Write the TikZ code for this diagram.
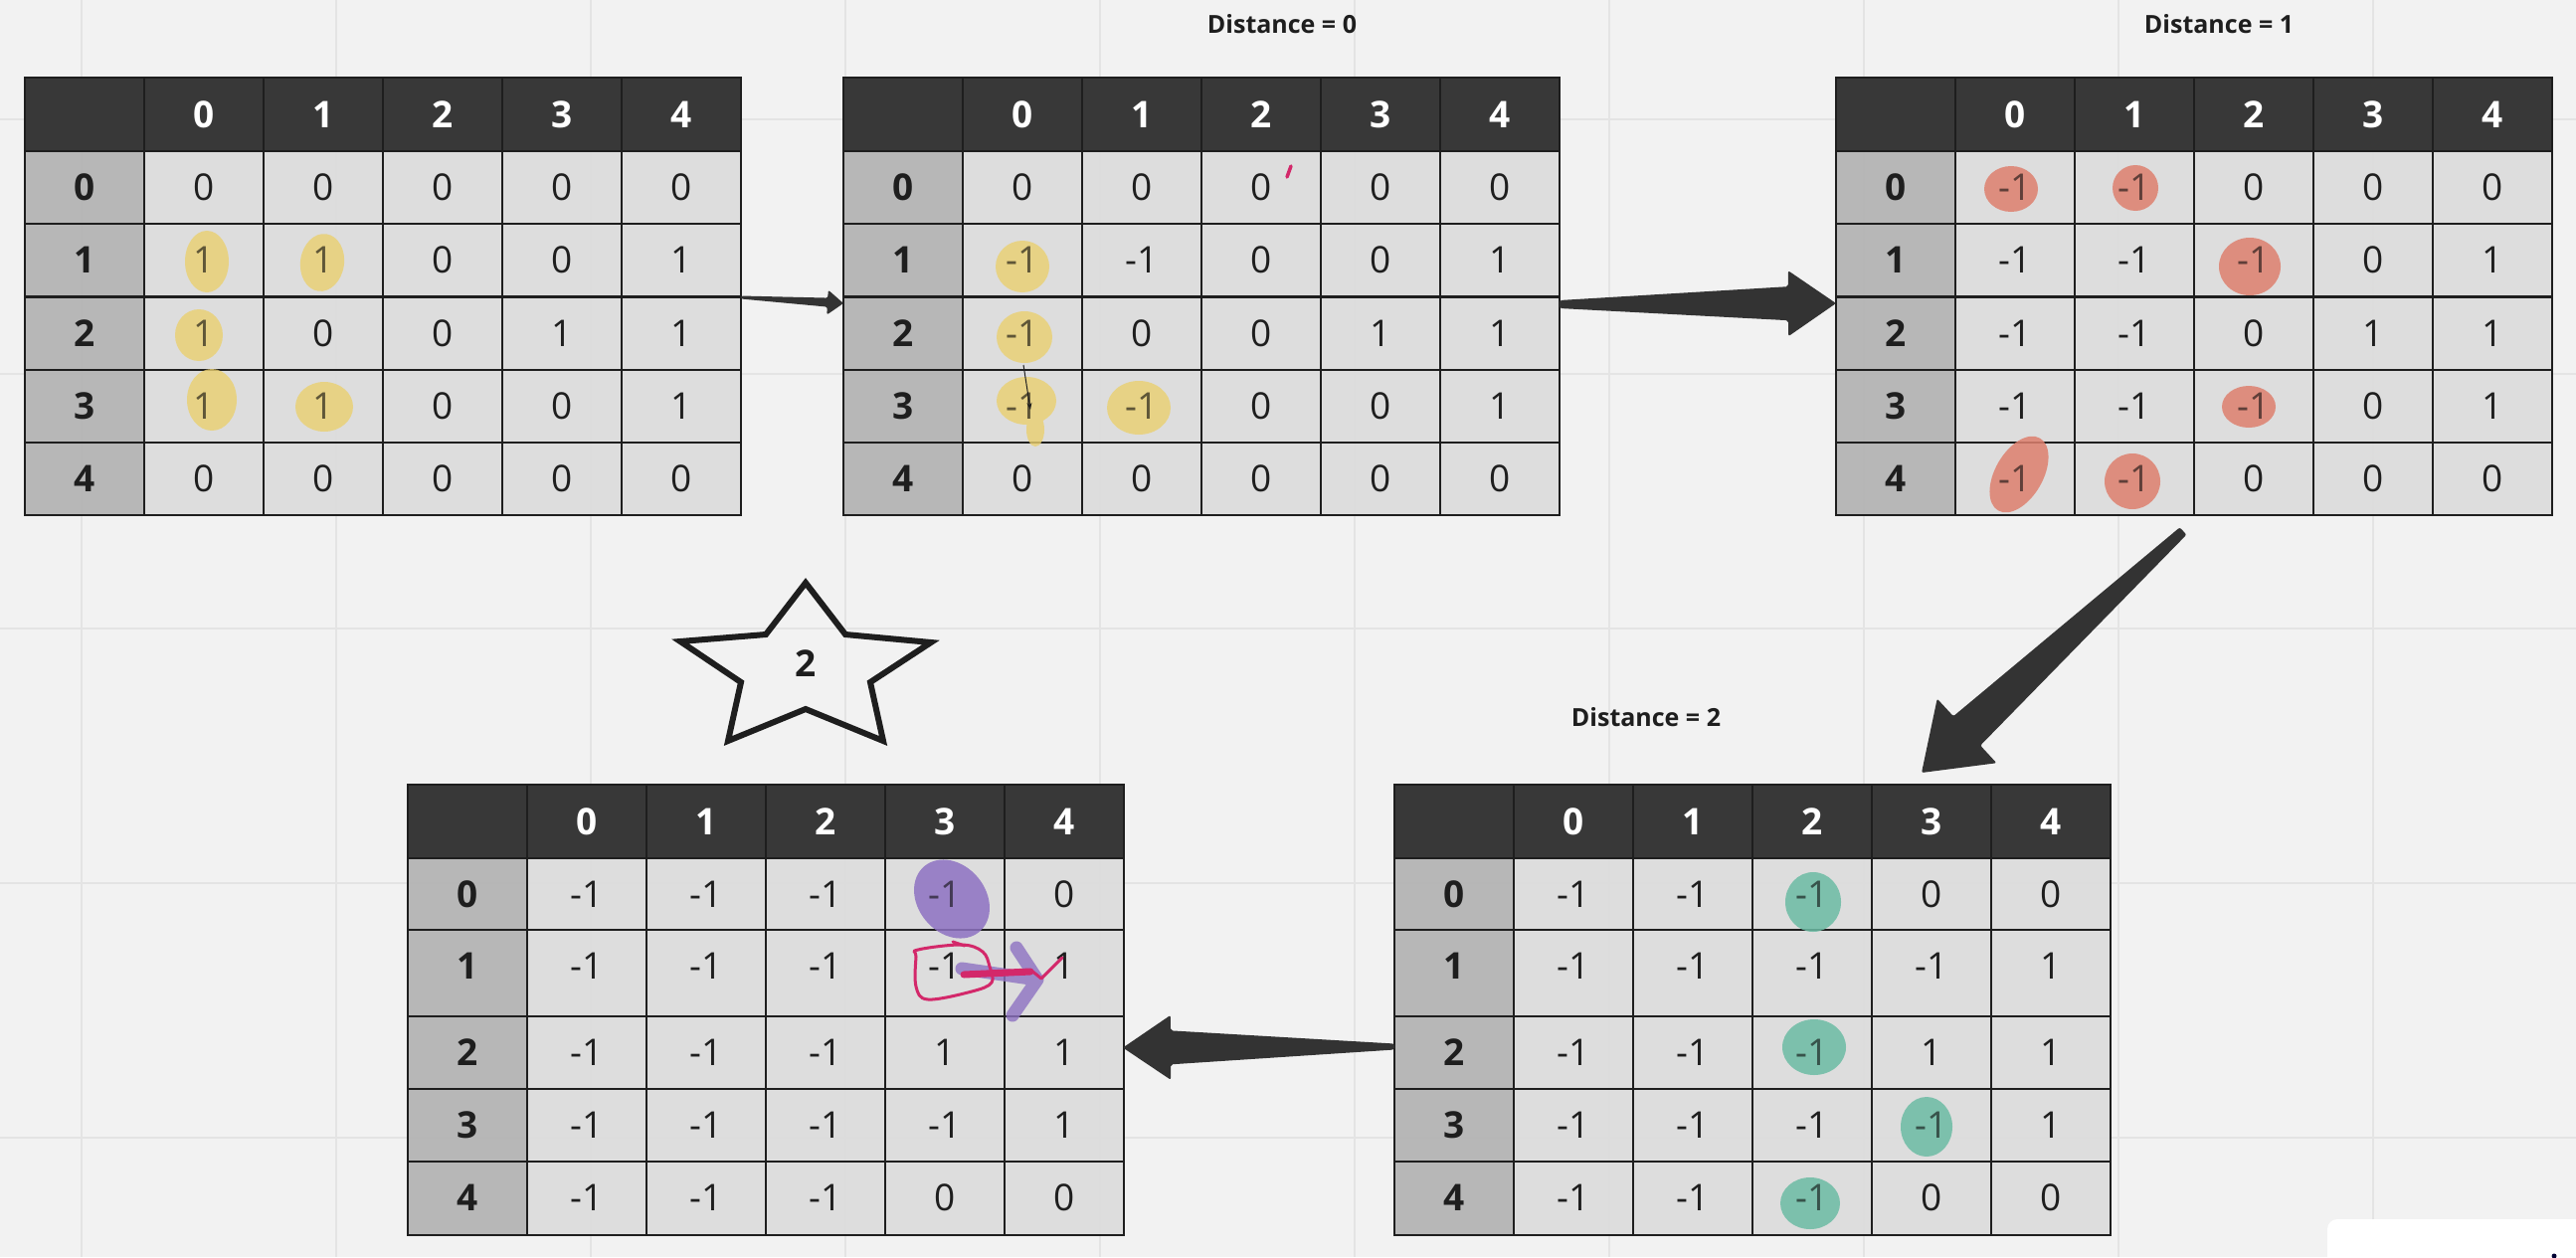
\documentclass[tikz,border=0pt]{standalone}
\usepackage{fontspec}
\setmainfont{Open Sans}
\usetikzlibrary{calc,arrows.meta}
\definecolor{bgc}{HTML}{F2F2F2}
\definecolor{gridc}{HTML}{E4E4E4}
\definecolor{hdrc}{HTML}{2F2F2F}
\definecolor{rowc}{HTML}{B3B3B3}
\definecolor{cellc}{HTML}{DCDCDC}
\definecolor{inkc}{HTML}{1E1E1E}
\definecolor{arrc}{HTML}{333333}
\definecolor{ylwc}{RGB}{234,208,112}
\definecolor{salc}{RGB}{222,128,110}
\definecolor{tealc}{RGB}{108,188,164}
\definecolor{purc}{RGB}{142,114,194}
\definecolor{redc}{HTML}{D3286A}
\tikzset{
  tline/.style={draw=inkc, line width=2.2pt},
  hdrtxt/.style={text=white, font=\fontsize{37}{40}\selectfont\bfseries, inner sep=0pt},
  rowtxt/.style={text=inkc, font=\fontsize{37}{40}\selectfont\bfseries, inner sep=0pt},
  celltxt/.style={text=inkc, font=\fontsize{37}{40}\selectfont, inner sep=0pt},
  overtxt/.style={celltxt, text opacity=0.6},
  ttlfont/.style={text=inkc, font=\fontsize{25}{28}\selectfont\bfseries, inner sep=0pt},
  tframe/.style={draw=inkc, line width=2.6pt, minimum width=720pt, inner sep=0pt, outer sep=0pt, anchor=north west},
  ylw/.style={fill=ylwc, fill opacity=0.8},
  sal/.style={fill=salc, fill opacity=0.85},
  teal/.style={fill=tealc, fill opacity=0.85},
  pur/.style={fill=purc, fill opacity=0.85},
  gridln/.style={draw=gridc, line width=2.5pt},
}
% #1 name, #2 x, #3 y, #4 height, #5 rows
\newcommand{\mktable}[5]{%
  \fill[hdrc, fill opacity=.95] ({#2},{#3}) rectangle ++(720,74);
  \foreach \ci in {0,...,4} \node[hdrtxt] (#1-h\ci) at ({#2+180+120*\ci},{#3+37}) {\ci};
  \foreach \ry/\rh/\va/\vb/\vc/\vd/\ve [count=\ri from 0] in {#5} {
    \fill[rowc, fill opacity=.93] ({#2},{#3+\ry}) rectangle ++(120,\rh);
    \fill[cellc, fill opacity=.93] ({#2+120},{#3+\ry}) rectangle ++(600,\rh);
    \draw[tline] ({#2},{#3+\ry}) -- ++(720,0);
    \node[rowtxt] (#1-r\ri) at ({#2+60},{#3+\ry+36.5}) {\ri};
    \node[celltxt] (#1-\ri-0) at ({#2+180},{#3+\ry+36.5}) {\va};
    \node[celltxt] (#1-\ri-1) at ({#2+300},{#3+\ry+36.5}) {\vb};
    \node[celltxt] (#1-\ri-2) at ({#2+420},{#3+\ry+36.5}) {\vc};
    \node[celltxt] (#1-\ri-3) at ({#2+540},{#3+\ry+36.5}) {\vd};
    \node[celltxt] (#1-\ri-4) at ({#2+660},{#3+\ry+36.5}) {\ve};
  }
  \foreach \ci in {1,...,5} \draw[tline] ({#2+120*\ci},{#3}) -- ++(0,#4);
  \node[tframe, minimum height=#4pt] (#1) at ({#2},{#3}) {};
}
% re-ink a cell text over a highlight
\newcommand{\reink}[2]{\node[overtxt] (#1x) at (#1) {#2};}
% #1 start, #2 tip, #3 half start width, #4 half end width, #5 head length, #6 head half width
\newcommand{\tapered}[6]{%
  \coordinate (#1e) at ($(#2)!#5!(#1)$);
  \fill[arrc, rounded corners=2pt]
    ($(#1)!#3!90:(#2)$) -- ($(#1e)!#4!90:(#2)$) -- ($(#1e)!#6!90:(#2)$) --
    (#2) -- ($(#1e)!#6!-90:(#2)$) -- ($(#1e)!#4!-90:(#2)$) --
    ($(#1)!#3!-90:(#2)$) -- cycle;
}
\begin{document}
\begin{tikzpicture}[x=1pt,y=-1pt]
\useasboundingbox (0,0) rectangle (2590,1264);
\clip (0,0) rectangle (2590,1264);
\fill[bgc] (0,0) rectangle (2590,1264);
\foreach \gx in {82,338,...,2386} \draw[gridln] (\gx,0) -- (\gx,1264);
\foreach \gy in {120,376,...,1144} \draw[gridln] (0,\gy) -- (2590,\gy);

% tables
\mktable{T1}{25}{78}{440}{74/73.2/0/0/0/0/0, 147.2/73.2/1/1/0/0/1, 220.4/73.2/1/0/0/1/1, 293.6/73.2/1/1/0/0/1, 366.8/73.2/0/0/0/0/0}
\mktable{T2}{848}{78}{440}{74/73.2/0/0/0/0/0, 147.2/73.2/-1/-1/0/0/1, 220.4/73.2/-1/0/0/1/1, 293.6/73.2/-1/-1/0/0/1, 366.8/73.2/0/0/0/0/0}
\mktable{T3}{1846}{78}{440}{74/73.2/-1/-1/0/0/0, 147.2/73.2/-1/-1/-1/0/1, 220.4/73.2/-1/-1/0/1/1, 293.6/73.2/-1/-1/-1/0/1, 366.8/73.2/-1/-1/0/0/0}
\mktable{T4}{410}{789}{453}{74/72/-1/-1/-1/-1/0, 146/87/-1/-1/-1/-1/1, 233/73/-1/-1/-1/1/1, 306/73/-1/-1/-1/-1/1, 379/74/-1/-1/-1/0/0}
\mktable{T5}{1402}{789}{453}{74/72/-1/-1/-1/0/0, 146/87/-1/-1/-1/-1/1, 233/73/-1/-1/-1/1/1, 306/73/-1/-1/-1/-1/1, 379/74/-1/-1/-1/0/0}

% titles
\node[ttlfont] (d0) at (1289,24) {Distance = 0};
\node[ttlfont] (d1) at (2231,24) {Distance = 1};
\node[ttlfont] (d2) at (1655,721) {Distance = 2};

% highlights table 1
\fill[ylw] (208,263) ellipse [x radius=22pt, y radius=31pt];
\fill[ylw] (324,264) ellipse [x radius=22pt, y radius=29pt, rotate=-8];
\fill[ylw] (200,337) ellipse [x radius=24pt, y radius=26pt];
\fill[ylw] (213,402) ellipse [x radius=25pt, y radius=31pt];
\fill[ylw] (326,409) ellipse [x radius=29pt, y radius=25pt];
\reink{T1-1-0}{1}\reink{T1-1-1}{1}\reink{T1-2-0}{1}\reink{T1-3-0}{1}\reink{T1-3-1}{1}
% highlights table 2
\fill[ylw] (1028,268) ellipse [x radius=27pt, y radius=26pt];
\fill[ylw] (1030,339) ellipse [x radius=28pt, y radius=26pt];
\fill[ylw] (1032,403) ellipse [x radius=30pt, y radius=24pt] (1041,432) ellipse [x radius=9pt, y radius=17pt];
\fill[ylw] (1145,410) ellipse [x radius=32pt, y radius=27pt];
\reink{T2-1-0}{-1}\reink{T2-2-0}{-1}\reink{T2-3-0}{-1}\reink{T2-3-1}{-1}
\draw[inkc, line width=1pt, -{Stealth[length=7pt,width=5pt]}] (1029,367) -- (1036,412);
\draw[redc, line width=3.5pt, line cap=round] (1294,178) -- (1298,167);
% highlights table 3
\fill[sal] (2022,190) ellipse [x radius=27pt, y radius=23pt];
\fill[sal] (2147,189) ellipse [x radius=23pt, y radius=23pt];
\fill[sal] (2262,268) ellipse [x radius=31pt, y radius=29pt];
\fill[sal] (2261,409) ellipse [x radius=27pt, y radius=21pt];
\fill[sal] (2030,477) ellipse [x radius=42pt, y radius=24pt, rotate=60];
\fill[sal] (2144,484) ellipse [x radius=28pt, y radius=28pt];
\reink{T3-0-0}{-1}\reink{T3-0-1}{-1}\reink{T3-1-2}{-1}\reink{T3-3-2}{-1}\reink{T3-4-0}{-1}\reink{T3-4-1}{-1}
% highlights table 5
\fill[teal] (1823,907) ellipse [x radius=28pt, y radius=30pt];
\fill[teal] (1824,1053) ellipse [x radius=32pt, y radius=28pt];
\fill[teal] (1937,1133) ellipse [x radius=26pt, y radius=30pt];
\fill[teal] (1820,1210) ellipse [x radius=30pt, y radius=26pt];
\reink{T5-0-2}{-1}\reink{T5-2-2}{-1}\reink{T5-3-3}{-1}\reink{T5-4-2}{-1}
% highlights table 4
\fill[pur] (957,904) ellipse [x radius=43pt, y radius=34pt, rotate=-50];
\reink{T4-0-3}{-1}
\draw[purc, draw opacity=0.8, line width=13pt, line cap=round, line join=round]
  (967,974) -- (1043,985) (1022,953) -- (1043,985) -- (1018,1021);
\draw[redc, line width=3pt, tension=0.6] plot[smooth cycle] coordinates
  {(923,955) (967,950) (988,957) (995,972) (997,988) (977,997) (933,1005) (921,992) (921,962)};
\draw[redc, line width=3pt, line cap=round] (958,947) -- (970,951);
\draw[redc, line width=7pt, line cap=round] (969,980) -- (1036,977);
\draw[redc, line width=3pt, line cap=round, line join=round] (1036,975) -- (1047,984) -- (1068,963);

% star
\draw[inkc, line width=6pt, line join=miter]
  (810,586) -- (850,638) -- (936,646) -- (875,686) -- (888,745) -- (810,713)
  -- (732,745) -- (745,686) -- (684,645) -- (770,638) -- cycle;
\node[rowtxt] (star2) at (810,667) {2};

% arrows
\coordinate (a1s) at ($(T1.east)+(0,1)$);
\coordinate (a1t) at ($(T2.west)+(0,7)$);
\coordinate (a2s) at ($(T2.east)+(0,8)$);
\coordinate (a2t) at ($(T3.west)+(0,7)$);
\coordinate (a3s) at ($(T3.south)+(-11,16)$);
\coordinate (a3t) at ($(T5.north)+(170,-12)$);
\coordinate (a4s) at ($(T5.west)+(0,37)$);
\coordinate (a4t) at ($(T4.east)+(-1,38)$);
\tapered{a1s}{a1t}{1.5pt}{4.5pt}{16pt}{12.5pt}
\tapered{a2s}{a2t}{4pt}{17pt}{48pt}{33pt}
\tapered{a3s}{a3t}{5pt}{20pt}{62pt}{44pt}
\tapered{a4s}{a4t}{3pt}{17pt}{48pt}{32.5pt}

% corner panel
\fill[white, rounded corners=10pt] (2340,1226) rectangle (2620,1300);
\fill[black!80!blue] (2568,1263) circle (2.5pt);
\end{tikzpicture}
\end{document}
